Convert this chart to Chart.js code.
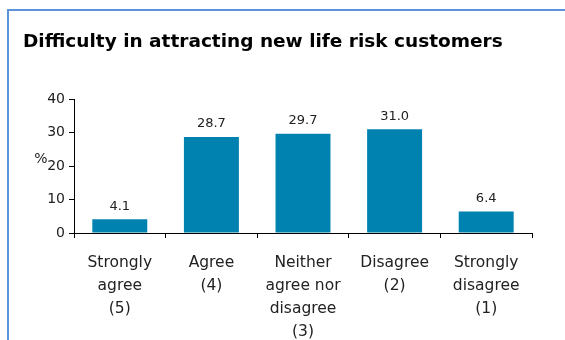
<!DOCTYPE html>
<html>
<head>
<meta charset="utf-8">
<script src="https://cdn.jsdelivr.net/npm/chart.js@4"></script>
<style>
  body { margin: 0; background: #fff; overflow: hidden; }
</style>
</head>
<body>
<canvas id="myChart" width="565" height="340"></canvas>
<script>
// data
var categories = [
  ["Strongly", "agree", "(5)"],
  ["Agree", "(4)"],
  ["Neither", "agree nor", "disagree", "(3)"],
  ["Disagree", "(2)"],
  ["Strongly", "disagree", "(1)"]
];
var values = [4.1, 28.7, 29.7, 31.0, 6.4];
var yTicks = [0, 10, 20, 30, 40];

var FONT = "'DejaVu Sans', Verdana, sans-serif";

// blue frame on the left and top edges
var framePlugin = {
  id: 'frame',
  beforeDraw: function(chart) {
    var ctx = chart.ctx;
    ctx.save();
    ctx.fillStyle = '#5b93dc';
    ctx.fillRect(7, 9, 2, chart.height);
    ctx.fillRect(7, 9, chart.width, 2);
    ctx.restore();
  }
};

// value labels over the bars + the "%" unit label
var labelsPlugin = {
  id: 'barLabels',
  afterDatasetsDraw: function(chart) {
    var ctx = chart.ctx;
    var meta = chart.getDatasetMeta(0);
    ctx.save();
    ctx.font = "13px " + FONT;
    ctx.fillStyle = '#222';
    ctx.textAlign = 'center';
    ctx.textBaseline = 'middle';
    meta.data.forEach(function(bar, i) {
      ctx.fillText(values[i].toFixed(1), bar.x, bar.y - 13);
    });
    var y = chart.scales.y;
    ctx.font = "14px " + FONT;
    ctx.fillText('%', chart.chartArea.left - 33, y.getPixelForValue(22));
    ctx.restore();
  }
};

new Chart(document.getElementById('myChart'), {
  type: 'bar',
  data: {
    labels: categories,
    datasets: [{
      data: values,
      backgroundColor: '#0082b0',
      categoryPercentage: 0.6,
      barPercentage: 1.0
    }]
  },
  plugins: [framePlugin, labelsPlugin],
  options: {
    responsive: false,
    animation: false,
    layout: { padding: { left: 23, right: 33, top: 0, bottom: 0 } },
    plugins: {
      legend: { display: false },
      tooltip: { enabled: false },
      title: {
        display: true,
        text: 'Difficulty in attracting new life risk customers',
        align: 'start',
        color: '#000',
        font: { family: FONT, size: 18.5, weight: 'bold', lineHeight: 1.2 },
        padding: { top: 31, bottom: 46 }
      }
    },
    scales: {
      y: {
        min: 0, max: 40,
        afterFit: function(s) { s.width = 51; },
        afterBuildTicks: function(s) { s.ticks = yTicks.map(function(v) { return { value: v }; }); },
        grid: { drawOnChartArea: false, drawTicks: true, tickLength: 5, color: '#000' },
        border: { display: true, color: '#000', width: 1 },
        ticks: { color: '#222', padding: 4, font: { family: FONT, size: 14 } }
      },
      x: {
        afterFit: function(s) { s.height = 107; },
        grid: { offset: true, drawOnChartArea: false, drawTicks: true, tickLength: 5, color: '#000' },
        border: { display: true, color: '#000', width: 1 },
        ticks: {
          color: '#222', padding: 14, maxRotation: 0, autoSkip: false,
          font: { family: FONT, size: 15.5, lineHeight: 1.47 }
        }
      }
    }
  }
});
</script>
</body>
</html>
